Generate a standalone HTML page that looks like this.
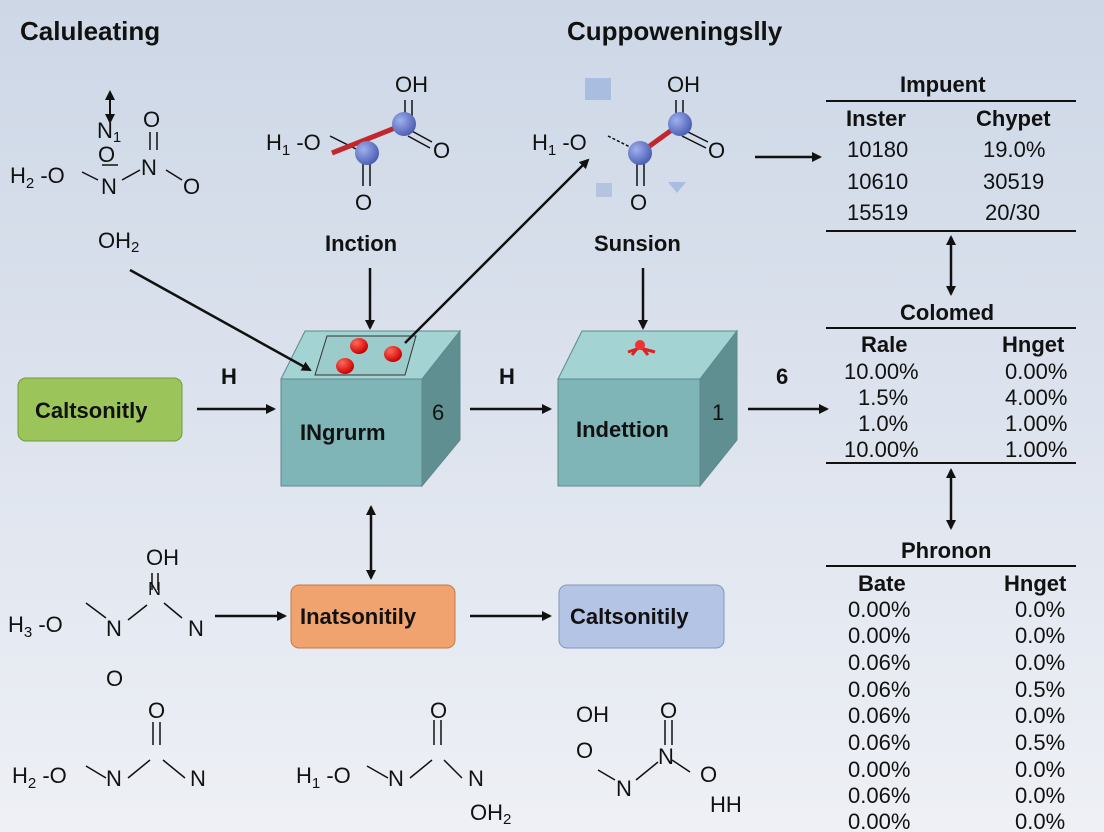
<!DOCTYPE html>
<html><head><meta charset="utf-8"><style>
body{margin:0;width:1104px;height:832px;overflow:hidden;background:linear-gradient(180deg,#cdd7e6 0%,#dde3ee 50%,#eef0f5 100%);}
svg{display:block}
text{font-family:"Liberation Sans",sans-serif;fill:#111}
.b{font-weight:bold}
</style></head><body>
<svg width="1104" height="832" viewBox="0 0 1104 832">
<defs>
<marker id="a" markerWidth="10" markerHeight="10" refX="8" refY="5" orient="auto" markerUnits="userSpaceOnUse"><path d="M0,0 L10,5 L0,10z" fill="#111"/></marker>
<marker id="s" markerWidth="10" markerHeight="10" refX="2" refY="5" orient="auto" markerUnits="userSpaceOnUse"><path d="M10,0 L0,5 L10,10z" fill="#111"/></marker>
<radialGradient id="ball" cx="0.35" cy="0.35" r="0.7"><stop offset="0" stop-color="#9fb0ee"/><stop offset="1" stop-color="#4a5cb0"/></radialGradient>
<radialGradient id="red" cx="0.35" cy="0.3" r="0.7"><stop offset="0" stop-color="#ff6a5a"/><stop offset="1" stop-color="#c00"/></radialGradient>
</defs>
<!-- cubes -->
<g stroke="#5c8a8c" stroke-width="1">
<path d="M281,379 L305,331 L460,331 L422,379z" fill="#a3d3d3"/>
<path d="M422,379 L460,331 L460,440 L422,486z" fill="#5f8f91"/>
<rect x="281" y="379" width="141" height="107" fill="#7fb5b7"/>
<path d="M558,379 L582,331 L737,331 L700,379z" fill="#a3d3d3"/>
<path d="M700,379 L737,331 L737,440 L700,486z" fill="#5f8f91"/>
<rect x="558" y="379" width="142" height="107" fill="#7fb5b7"/>
</g>
<path d="M315,375 L327,336 L416,336 L405,375z" fill="#9ccbcb" stroke="#333"/>
<ellipse cx="359" cy="346" rx="9" ry="8" fill="url(#red)"/><ellipse cx="393" cy="354" rx="9" ry="8" fill="url(#red)"/><ellipse cx="345" cy="366" rx="9" ry="8" fill="url(#red)"/>
<g stroke="#d22" stroke-width="3" fill="none"><path d="M632,355 L640,345 L648,355 M640,348 L628,352 M640,348 L655,352"/></g><circle cx="640" cy="345" r="5" fill="#e33"/>
<g stroke="#111" stroke-width="2.5" fill="none">
<!-- arrows -->
<line x1="110" y1="92" x2="110" y2="122" marker-start="url(#s)" marker-end="url(#a)" stroke-width="2"/>
<line x1="130" y1="270" x2="310" y2="370" marker-end="url(#a)"/>
<line x1="370" y1="268" x2="370" y2="328" marker-end="url(#a)"/>
<line x1="405" y1="343" x2="588" y2="160" marker-end="url(#a)"/>
<line x1="643" y1="268" x2="643" y2="328" marker-end="url(#a)"/>
<line x1="197" y1="409" x2="274" y2="409" marker-end="url(#a)"/>
<line x1="470" y1="409" x2="550" y2="409" marker-end="url(#a)"/>
<line x1="748" y1="409" x2="827" y2="409" marker-end="url(#a)"/>
<line x1="755" y1="157" x2="820" y2="157" marker-end="url(#a)"/>
<line x1="371" y1="507" x2="371" y2="578" marker-start="url(#s)" marker-end="url(#a)"/>
<line x1="215" y1="616" x2="285" y2="616" marker-end="url(#a)"/>
<line x1="470" y1="616" x2="550" y2="616" marker-end="url(#a)"/>
<line x1="951" y1="237" x2="951" y2="294" marker-start="url(#s)" marker-end="url(#a)"/>
<line x1="951" y1="470" x2="951" y2="528" marker-start="url(#s)" marker-end="url(#a)"/>
<!-- table lines -->
<line x1="826" y1="101" x2="1076" y2="101" stroke-width="2"/>
<line x1="826" y1="231" x2="1076" y2="231" stroke-width="2"/>
<line x1="826" y1="328" x2="1076" y2="328" stroke-width="2"/>
<line x1="826" y1="463" x2="1076" y2="463" stroke-width="2"/>
<line x1="826" y1="566" x2="1076" y2="566" stroke-width="2"/>
<!-- molecule bonds -->
<line x1="82" y1="172" x2="98" y2="180" stroke-width="1.5"/>
<line x1="122" y1="180" x2="140" y2="170" stroke-width="1.5"/>
<line x1="166" y1="170" x2="182" y2="180" stroke-width="1.5"/>
<line x1="150" y1="132" x2="150" y2="150" stroke-width="1.5"/><line x1="157" y1="132" x2="157" y2="150" stroke-width="1.5"/>
<line x1="102" y1="165" x2="118" y2="165" stroke-width="1.5"/>
<line x1="330" y1="136" x2="358" y2="150" stroke-width="1.5"/>
<line x1="363" y1="160" x2="363" y2="186" stroke-width="1.5"/><line x1="370" y1="160" x2="370" y2="186" stroke-width="1.5"/>
<line x1="405" y1="100" x2="405" y2="120" stroke-width="1.5"/><line x1="412" y1="100" x2="412" y2="120" stroke-width="1.5"/>
<line x1="410" y1="130" x2="432" y2="142" stroke-width="1.5"/><line x1="408" y1="136" x2="430" y2="148" stroke-width="1.5"/>
<line x1="332" y1="153" x2="405" y2="124" stroke="#c1272d" stroke-width="5"/>
<line x1="608" y1="136" x2="636" y2="150" stroke-width="1.5" stroke-dasharray="3 2"/>
<line x1="637" y1="160" x2="637" y2="186" stroke-width="1.5"/><line x1="644" y1="160" x2="644" y2="186" stroke-width="1.5"/>
<line x1="676" y1="100" x2="676" y2="120" stroke-width="1.5"/><line x1="683" y1="100" x2="683" y2="120" stroke-width="1.5"/>
<line x1="684" y1="130" x2="708" y2="142" stroke-width="1.5"/><line x1="682" y1="136" x2="706" y2="148" stroke-width="1.5"/>
<line x1="640" y1="153" x2="680" y2="124" stroke="#c1272d" stroke-width="5"/>
<line x1="86" y1="603" x2="106" y2="618" stroke-width="1.5"/>
<line x1="128" y1="620" x2="147" y2="605" stroke-width="1.5"/>
<line x1="164" y1="603" x2="182" y2="618" stroke-width="1.5"/>
<line x1="152" y1="573" x2="152" y2="590" stroke-width="1.5"/><line x1="158" y1="573" x2="158" y2="590" stroke-width="1.5"/>
<line x1="86" y1="766" x2="106" y2="778" stroke-width="1.5"/>
<line x1="128" y1="778" x2="150" y2="760" stroke-width="1.5"/>
<line x1="163" y1="760" x2="185" y2="778" stroke-width="1.5"/>
<line x1="153" y1="722" x2="153" y2="745" stroke-width="1.5"/><line x1="160" y1="722" x2="160" y2="745" stroke-width="1.5"/>
<line x1="367" y1="766" x2="388" y2="778" stroke-width="1.5"/>
<line x1="410" y1="778" x2="432" y2="760" stroke-width="1.5"/>
<line x1="444" y1="760" x2="462" y2="778" stroke-width="1.5"/>
<line x1="434" y1="720" x2="434" y2="745" stroke-width="1.5"/><line x1="441" y1="720" x2="441" y2="745" stroke-width="1.5"/>
<line x1="598" y1="770" x2="615" y2="780" stroke-width="1.5"/>
<line x1="636" y1="780" x2="658" y2="762" stroke-width="1.5"/>
<line x1="672" y1="760" x2="690" y2="772" stroke-width="1.5"/>
<line x1="665" y1="720" x2="665" y2="745" stroke-width="1.5"/><line x1="672" y1="720" x2="672" y2="745" stroke-width="1.5"/>
</g>
<circle cx="367" cy="153" r="12" fill="url(#ball)"/><circle cx="404" cy="124" r="12" fill="url(#ball)"/>
<circle cx="640" cy="153" r="12" fill="url(#ball)"/><circle cx="680" cy="124" r="12" fill="url(#ball)"/>
<rect x="585" y="78" width="26" height="22" fill="#a9bde0"/>
<rect x="596" y="183" width="16" height="14" fill="#b4c4df"/>
<path d="M668,182 L686,182 L677,193z" fill="#a9bde0"/>
<!-- boxes -->
<rect x="18" y="378" width="164" height="63" rx="8" fill="#9bc45a" stroke="#6f9a3a"/>
<rect x="291" y="585" width="164" height="63" rx="8" fill="#f0a36e" stroke="#c77a44"/>
<rect x="559" y="585" width="165" height="63" rx="8" fill="#b4c4e4" stroke="#8396bd"/>
<g font-size="22">
<text class="b" x="20" y="40" font-size="26">Caluleating</text>
<text class="b" x="567" y="40" font-size="26">Cuppoweningslly</text>
<text x="97" y="138">N<tspan font-size="15" dy="4">1</tspan></text>
<text x="98" y="162">O</text>
<text x="143" y="127">O</text>
<text x="10" y="183">H<tspan font-size="15" dy="5">2</tspan><tspan dy="-5"> -O</tspan></text>
<text x="101" y="194">N</text><text x="141" y="175">N</text><text x="183" y="194">O</text>
<text x="98" y="248">OH<tspan font-size="15" dy="4">2</tspan></text>
<text x="266" y="150">H<tspan font-size="15" dy="5">1</tspan><tspan dy="-5"> -O</tspan></text>
<text x="395" y="92">OH</text><text x="433" y="158">O</text><text x="355" y="210">O</text>
<text x="532" y="150">H<tspan font-size="15" dy="5">1</tspan><tspan dy="-5"> -O</tspan></text>
<text x="667" y="92">OH</text><text x="708" y="158">O</text><text x="630" y="210">O</text>
<text class="b" x="325" y="251">Inction</text>
<text class="b" x="594" y="251">Sunsion</text>
<text class="b" x="221" y="384">H</text><text class="b" x="499" y="384">H</text><text class="b" x="776" y="384">6</text>
<text class="b" x="35" y="418">Caltsonitly</text>
<text class="b" x="300" y="440">INgrurm</text>
<text class="b" x="576" y="437">Indettion</text>
<text x="432" y="420" font-family="Liberation Serif">6</text>
<text x="712" y="420" font-family="Liberation Serif">1</text>
<text class="b" x="300" y="624">Inatsonitily</text>
<text class="b" x="570" y="624">Caltsonitily</text>
<text x="146" y="565">OH</text><text x="148" y="595" font-size="18">N</text>
<text x="8" y="632">H<tspan font-size="15" dy="5">3</tspan><tspan dy="-5"> -O</tspan></text>
<text x="106" y="636">N</text><text x="188" y="636">N</text><text x="106" y="686">O</text>
<text x="148" y="718">O</text>
<text x="12" y="783">H<tspan font-size="15" dy="5">2</tspan><tspan dy="-5"> -O</tspan></text>
<text x="106" y="786">N</text><text x="190" y="786">N</text>
<text x="430" y="718">O</text>
<text x="296" y="783">H<tspan font-size="15" dy="5">1</tspan><tspan dy="-5"> -O</tspan></text>
<text x="388" y="786">N</text><text x="468" y="786">N</text>
<text x="470" y="820">OH<tspan font-size="15" dy="4">2</tspan></text>
<text x="576" y="722">OH</text><text x="576" y="758">O</text>
<text x="616" y="796">N</text><text x="658" y="764">N</text><text x="660" y="718">O</text><text x="700" y="782">O</text>
<text x="710" y="812">HH</text>
</g>
<g font-size="22">
<text class="b" x="900" y="92">Impuent</text>
<text class="b" x="846" y="126">Inster</text><text class="b" x="976" y="126">Chypet</text>
<text x="847" y="157">10180</text><text x="983" y="157">19.0%</text>
<text x="847" y="189">10610</text><text x="983" y="189">30519</text>
<text x="847" y="220">15519</text><text x="985" y="220">20/30</text>
<text class="b" x="900" y="320">Colomed</text>
<text class="b" x="861" y="352">Rale</text><text class="b" x="1002" y="352">Hnget</text>
<text x="844" y="379">10.00%</text><text x="1005" y="379">0.00%</text>
<text x="858" y="405">1.5%</text><text x="1005" y="405">4.00%</text>
<text x="858" y="431">1.0%</text><text x="1005" y="431">1.00%</text>
<text x="844" y="457">10.00%</text><text x="1005" y="457">1.00%</text>
<text class="b" x="901" y="558">Phronon</text>
<text class="b" x="858" y="591">Bate</text><text class="b" x="1004" y="591">Hnget</text>
<text x="848" y="617">0.00%</text><text x="1015" y="617">0.0%</text>
<text x="848" y="643">0.00%</text><text x="1015" y="643">0.0%</text>
<text x="848" y="670">0.06%</text><text x="1015" y="670">0.0%</text>
<text x="848" y="697">0.06%</text><text x="1015" y="697">0.5%</text>
<text x="848" y="723">0.06%</text><text x="1015" y="723">0.0%</text>
<text x="848" y="750">0.06%</text><text x="1015" y="750">0.5%</text>
<text x="848" y="777">0.00%</text><text x="1015" y="777">0.0%</text>
<text x="848" y="803">0.06%</text><text x="1015" y="803">0.0%</text>
<text x="848" y="829">0.00%</text><text x="1015" y="829">0.0%</text>
</g>
</svg>
</body></html>
